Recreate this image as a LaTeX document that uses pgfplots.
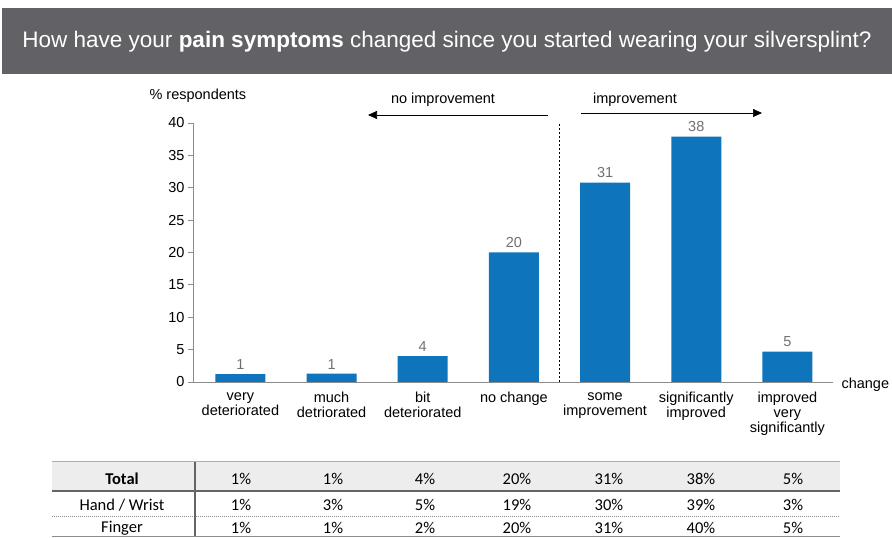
\documentclass[border=0pt]{standalone}
\usepackage{pgfplots}
\pgfplotsset{compat=1.18}
\usepackage{pgfplotstable}
\usepackage{fontspec}
\setmainfont{Liberation Sans}
\newfontfamily\tablefont{Carlito}
\usetikzlibrary{arrows.meta}
\definecolor{barblue}{RGB}{14,116,188}
\definecolor{banner}{RGB}{97,97,102}
\definecolor{lblgray}{RGB}{112,112,112}
\definecolor{axgray}{RGB}{140,140,140}
\definecolor{tabdark}{RGB}{100,100,100}
\definecolor{tabbg}{RGB}{237,237,237}

\pgfplotstableread{
x y label
0 1.2 1
1 1.3 1
2 4.0 4
3 20.0 20
4 30.8 31
5 37.9 38
6 4.7 5
}\bardata

\begin{document}
\begin{tikzpicture}[x=1pt,y=1pt]
% title banner
\fill[banner] (2,530) rectangle (892,464);
\node[text=white, font=\fontsize{22.5}{26}\selectfont] at (447,496) {How have your \textbf{pain symptoms} changed since you started wearing your silversplint?};

\begin{axis}[
  at={(193pt,156pt)}, anchor=south west,
  scale only axis, width=640pt, height=259pt,
  xmin=-0.52, xmax=6.5, ymin=0, ymax=40,
  axis x line=bottom, axis y line=left,
  axis line style={-, draw=axgray, line width=0.8pt},
  ytick={0,5,...,40},
  tick align=outside,
  major tick length=5pt,
  ytick style={draw=axgray, line width=0.8pt},
  xtick={0,...,6},
  xtick style={draw=none},
  xticklabels={{very\\deteriorated},{much\\detriorated},{bit\\deteriorated},{no change},{some\\improvement},{significantly\\improved},{improved\\very\\significantly}},
  xticklabel style={align=center, font=\fontsize{14.5}{15}\selectfont, text=black, inner sep=1pt, yshift=-4pt},
  yticklabel style={font=\fontsize{14.5}{15}\selectfont, text=black},
  /pgf/number format/assume math mode=true,
  ybar, bar width=50pt,
  nodes near coords,
  point meta=explicit symbolic,
  nodes near coords style={font=\fontsize{14.5}{15}\selectfont, text=lblgray, yshift=1pt},
  clip=false,
]
\addplot[fill=barblue, draw=none] table[x=x, y=y, meta=label] {\bardata};
\draw[dash pattern=on 2pt off 2pt, line width=0.7pt, black] (axis cs:3.5,0) -- (axis cs:3.5,40);
\end{axis}

% annotations
\node[anchor=west, font=\fontsize{14.5}{16}\selectfont] at (146,442) {\% respondents};
\node[anchor=west, font=\fontsize{14.5}{16}\selectfont] at (838,153) {change};
\draw[-{Triangle[length=9pt,width=8pt]}, line width=0.7pt] (548,423) -- (368,423);
\draw[-{Triangle[length=9pt,width=8pt]}, line width=0.7pt] (581,425) -- (762,425);
\node[font=\fontsize{14.5}{16}\selectfont] at (443,438) {no improvement};
\node[font=\fontsize{14.5}{16}\selectfont] at (635,438) {improvement};

% table
\fill[tabbg] (52,76) rectangle (840,47);
\draw[axgray!70, line width=1pt] (52,76) -- (840,76);
\draw[tabdark, line width=1.2pt] (52,47) -- (840,47);
\draw[axgray, line width=0.8pt, dash pattern=on 1pt off 1pt] (52,22) -- (840,22);
\draw[axgray, line width=1pt] (52,1.5) -- (840,1.5);
\draw[tabdark, line width=1.2pt] (195,76) -- (195,1.5);
\begin{scope}[every node/.style={font=\tablefont\fontsize{16.5}{18}\selectfont, text=black}]
\node at (122,59) {\textbf{Total}};
\node at (122,33) {Hand / Wrist};
\node at (122,10) {Finger};
\foreach \v [count=\i from 0] in {1,1,4,20,31,38,5} {\node at (241+92*\i,59) {\v\%};}
\foreach \v [count=\i from 0] in {1,3,5,19,30,39,3} {\node at (241+92*\i,33) {\v\%};}
\foreach \v [count=\i from 0] in {1,1,2,20,31,40,5} {\node at (241+92*\i,10) {\v\%};}
\end{scope}
\pgfresetboundingbox
\useasboundingbox (0,0) rectangle (892,538);
\end{tikzpicture}
\end{document}
